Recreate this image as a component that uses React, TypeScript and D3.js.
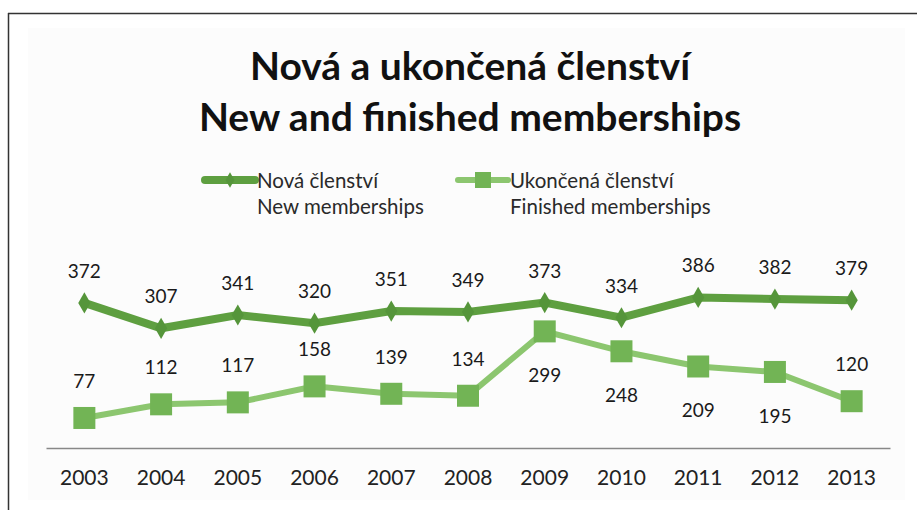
import React, { useRef, useEffect } from 'react';
import * as d3 from 'd3';

const years: string[] = ['2003', '2004', '2005', '2006', '2007', '2008', '2009', '2010', '2011', '2012', '2013'];
const newMembers: number[] = [372, 307, 341, 320, 351, 349, 373, 334, 386, 382, 379];
const finishedMembers: number[] = [77, 112, 117, 158, 139, 134, 299, 248, 209, 195, 120];
// data labels of the finished series that sit under the point
const finishedBelow: string[] = ['2009', '2010', '2011', '2012'];

const titleLines: string[] = ['Nová a ukončená členství', 'New and finished memberships'];
const legendNew: string[] = ['Nová členství', 'New memberships'];
const legendFinished: string[] = ['Ukončená členství', 'Finished memberships'];

const W = 917;
const H = 510;
const FONT = 'Lato, "Open Sans", sans-serif';
const DARK = '#5e9f40';
const DARK_MARK = '#55953a';
const LIGHT = '#8cc66f';
const LIGHT_MARK = '#72b455';

const App: React.FC = () => {
    const ref = useRef<SVGSVGElement>(null);

    useEffect(() => {
        if (!ref.current) return;
        const svg = d3.select(ref.current);
        svg.selectAll('*').remove();

        // frame
        svg.append('rect').attr('x', 28).attr('y', 28).attr('width', 877).attr('height', 472).attr('fill', '#fcfcfc');
        svg.append('line').attr('x1', 8).attr('x2', W).attr('y1', 13.5).attr('y2', 13.5)
            .attr('stroke', '#333').attr('stroke-width', 1.5);
        svg.append('line').attr('x1', 8.5).attr('x2', 8.5).attr('y1', 13).attr('y2', H)
            .attr('stroke', '#333').attr('stroke-width', 1.5);

        // title
        svg.selectAll('.title')
            .data(titleLines)
            .enter()
            .append('text')
            .classed('title', true)
            .attr('x', 470)
            .attr('y', (d, i) => 80 + i * 51)
            .attr('text-anchor', 'middle')
            .attr('font-family', FONT)
            .attr('font-weight', 700)
            .attr('font-size', 39)
            .attr('fill', '#111')
            .text(d => d);

        const x = d3.scaleBand().domain(years).range([46, 890]);
        const y = d3.scaleLinear().domain([0, 450]).range([448, 448 - 450 * 0.39]);
        const cx = (d: string) => x(d)! + x.bandwidth() / 2;

        // axis
        const axis = svg.append('g').attr('transform', 'translate(0,448)')
            .call(d3.axisBottom(x).tickSize(0).tickPadding(22));
        axis.select('.domain').attr('stroke', '#888').attr('stroke-width', 1.5);
        axis.selectAll('text').attr('font-family', FONT).attr('font-size', 21).attr('fill', '#222');

        const line = d3.line<number>()
            .x((d, i) => cx(years[i]))
            .y(d => y(d));

        // finished series
        svg.append('path').datum(finishedMembers)
            .attr('d', line).attr('fill', 'none').attr('stroke', LIGHT).attr('stroke-width', 6);
        svg.selectAll('.sq').data(finishedMembers).enter().append('rect').classed('sq', true)
            .attr('x', (d, i) => cx(years[i]) - 11)
            .attr('y', d => y(d) - 11)
            .attr('width', 22).attr('height', 22)
            .attr('fill', LIGHT_MARK);

        // new series
        svg.append('path').datum(newMembers)
            .attr('d', line).attr('fill', 'none').attr('stroke', DARK).attr('stroke-width', 8);
        svg.selectAll('.dm').data(newMembers).enter().append('path').classed('dm', true)
            .attr('d', d3.symbol(d3.symbolDiamond, 130))
            .attr('transform', (d, i) => `translate(${cx(years[i])},${y(d)})`)
            .attr('fill', DARK_MARK);

        // labels
        svg.selectAll('.lbn').data(newMembers).enter().append('text').classed('lbn', true)
            .attr('x', (d, i) => cx(years[i]))
            .attr('y', d => y(d) - 25)
            .attr('text-anchor', 'middle')
            .attr('font-family', FONT).attr('font-size', 19).attr('fill', '#1a1a1a')
            .text(d => d);
        svg.selectAll('.lbf').data(finishedMembers).enter().append('text').classed('lbf', true)
            .attr('x', (d, i) => cx(years[i]))
            .attr('y', (d, i) => finishedBelow.includes(years[i]) ? y(d) + 51 : y(d) - 30)
            .attr('text-anchor', 'middle')
            .attr('font-family', FONT).attr('font-size', 19).attr('fill', '#1a1a1a')
            .text(d => d);

        // legend
        const legend = [
            { x: 205, lines: legendNew, color: DARK, mark: DARK_MARK, w: 8, square: false },
            { x: 458, lines: legendFinished, color: LIGHT, mark: LIGHT_MARK, w: 6, square: true },
        ];
        legend.forEach(l => {
            const g = svg.append('g');
            g.append('line').attr('x1', l.x).attr('x2', l.x + 50).attr('y1', 180).attr('y2', 180)
                .attr('stroke', l.color).attr('stroke-width', l.w).attr('stroke-linecap', 'round');
            if (l.square) {
                g.append('rect').attr('x', l.x + 17).attr('y', 172).attr('width', 16).attr('height', 16).attr('fill', l.mark);
            } else {
                g.append('path').attr('d', d3.symbol(d3.symbolDiamond, 70))
                    .attr('transform', `translate(${l.x + 25},180)`).attr('fill', l.mark);
            }
            g.selectAll('text').data(l.lines).enter().append('text')
                .attr('x', l.x + 52)
                .attr('y', (d, i) => 188 + i * 26)
                .attr('font-family', FONT).attr('font-size', 20.5).attr('fill', '#2a2a2a')
                .text(d => d);
        });
    }, []);

    return <svg ref={ref} width={W} height={H} style={{ position: 'absolute', left: 0, top: 0, background: '#fff' }}></svg>;
};

export default App;
